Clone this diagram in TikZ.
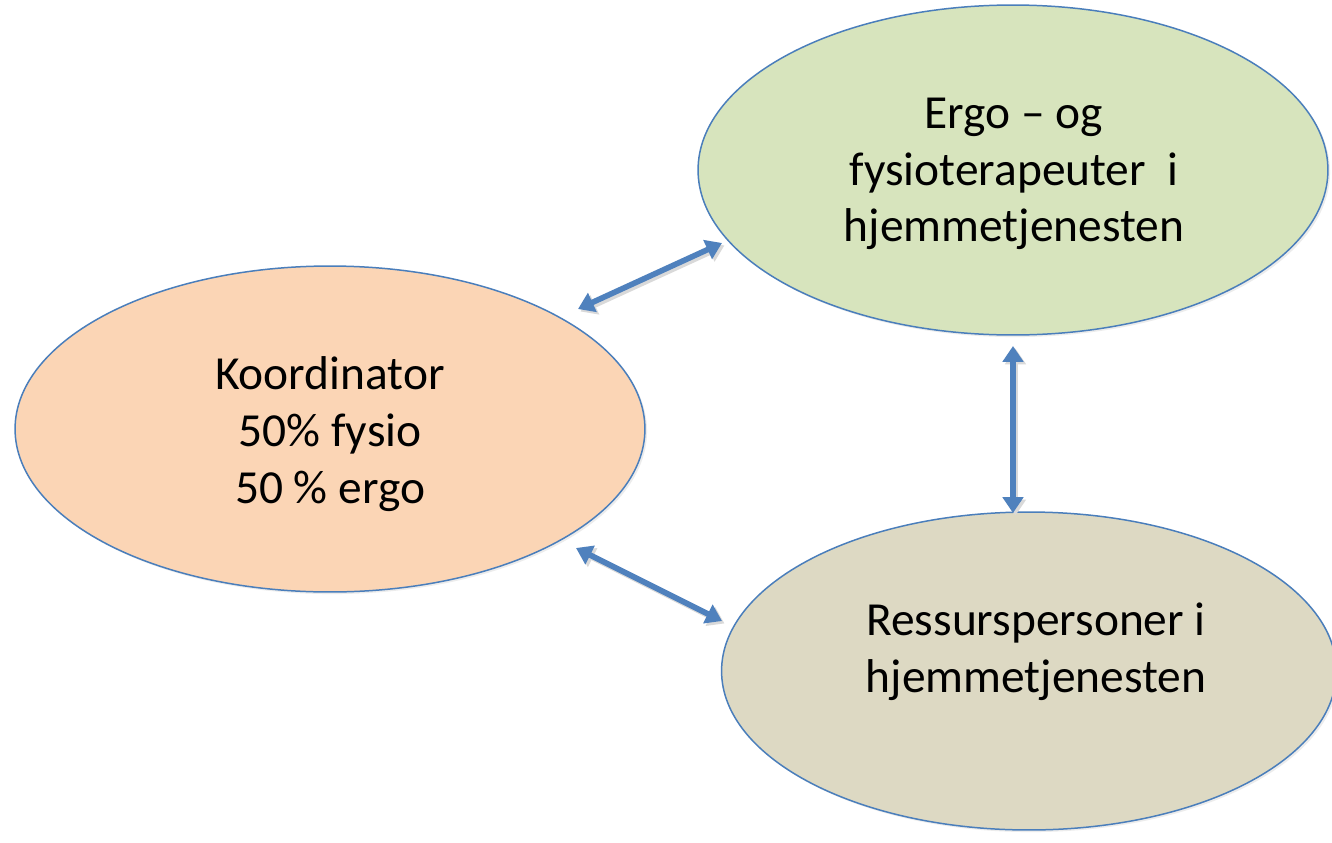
\documentclass[tikz,border=0pt]{standalone}
\usepackage{fontspec}
\setmainfont{Carlito}
\usetikzlibrary{shapes.geometric,arrows.meta,shadows}
\definecolor{edgeblue}{HTML}{4A7EBB}
\definecolor{arrowblue}{HTML}{4F81BD}
\definecolor{peach}{HTML}{FBD5B5}
\definecolor{sage}{HTML}{D7E4BD}
\definecolor{khaki}{HTML}{DDD9C3}
\tikzset{
  oval/.style={ellipse, draw=edgeblue, line width=0.85pt, inner sep=0pt,
    drop shadow={opacity=0.15, shadow xshift=1.2pt, shadow yshift=-1.2pt}},
  label text/.style={align=center, font=\fontsize{27}{32.3}\selectfont, text=black},
  link/.style={draw=arrowblue, line width=3.2pt,
    {Triangle[width=11.5pt,length=9pt]}-{Triangle[width=11.5pt,length=9pt]},
    preaction={draw=black!15, line width=3.2pt, transform canvas={xshift=1.4pt,yshift=-1.4pt},
      {Triangle[width=11.5pt,length=9pt]}-{Triangle[width=11.5pt,length=9pt]}}}
}
\begin{document}
\begin{tikzpicture}[x=0.02cm,y=-0.02cm]
\useasboundingbox (0,0) rectangle (1332,842);
\clip (0,0) rectangle (1332,842);
\fill[white] (0,0) rectangle (1332,842);
% ellipses
\node[oval, fill=peach, minimum width=12.6cm, minimum height=6.52cm] (koord) at (330,429) {};
\node[oval, fill=sage, minimum width=12.6cm, minimum height=6.6cm] (ergo) at (1013,170) {};
\node[oval, fill=khaki, minimum width=12.3cm, minimum height=6.36cm] (ress) at (1029,671) {};
% texts
\node[label text] (koordtxt) at (330,434) {Koordinator\\50\% fysio\\50 \% ergo};
\node[label text] (ergotxt) at (1014,174) {Ergo – og\\fysioterapeuter\ \ i\\hjemmetjenesten};
\node[label text] (resstxt) at (1036,652) {Ressurspersoner i\\hjemmetjenesten};
% arrow end points
\coordinate (a1s) at (578,309);
\coordinate (a1e) at (722,243);
\coordinate (a2s) at (576,548);
\coordinate (a2e) at (722,621);
\coordinate (a3s) at (1013,346);
\coordinate (a3e) at (1013,513);
\draw[link] (a1s) -- (a1e);
\draw[link] (a2s) -- (a2e);
\draw[link] (a3s) -- (a3e);
\end{tikzpicture}
\end{document}
